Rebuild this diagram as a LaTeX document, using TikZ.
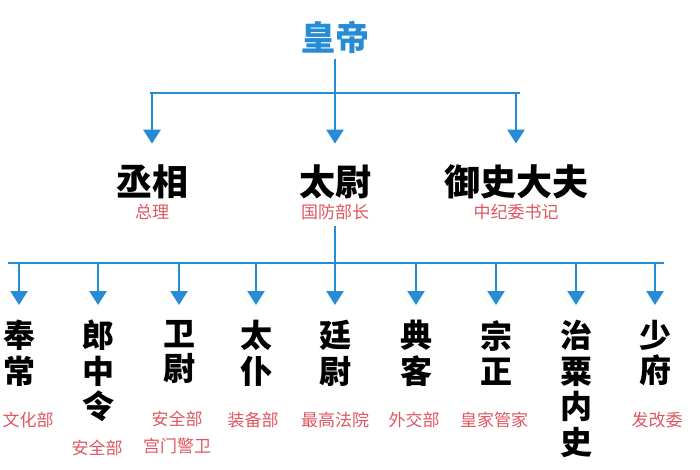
\documentclass[tikz,border=0pt]{standalone}
\usepackage{fontspec}
\setmainfont{Noto Sans CJK SC}
\usetikzlibrary{arrows.meta,positioning}
\definecolor{lineblue}{RGB}{38,140,214}
\definecolor{notered}{RGB}{222,86,96}
\tikzset{
  link/.style={lineblue, line width=2.6pt},
  down/.style={link, -{Triangle[width=17pt,length=14pt]}},
  topname/.style={font=\fontsize{36}{36}\selectfont\bfseries, inner sep=0pt},
  colname/.style={font=\fontsize{32}{35.5}\selectfont\bfseries, align=center, inner sep=0pt, anchor=north},
  modern/.style={text=notered, font=\fontsize{17}{27}\selectfont, align=center, inner sep=0pt},
}

\begin{document}
\begin{tikzpicture}[x=1pt,y=-1pt]
    \useasboundingbox (0,0) rectangle (700,470);
    \clip (0,0) rectangle (700,470);

    % 皇帝
    \node[topname, text=lineblue, font=\fontsize{34}{34}\selectfont\bfseries] (emp) at (335,37) {皇帝};

    % 三公
    \node[topname] (cx) at (152,182) {丞相};
    \node[topname] (tw) at (335,182) {太尉};
    \node[topname] (ys) at (516,182) {御史大夫};
    \node[modern] (cx-d) at (152,212) {总理};
    \node[modern] (tw-d) at (335,212) {国防部长};
    \node[modern] (ys-d) at (516,212) {中纪委书记};

    \coordinate (bar1) at (335,93);
    \coordinate (bar1l) at (150,93);
    \coordinate (bar1r) at (520,93);
    \draw[link] ([yshift=-6pt]emp.south) -- (bar1);
    \draw[link] (bar1l) -- (bar1r);
    \foreach \nm in {cx,tw,ys}
        \draw[down] (\nm |- bar1) -- ([yshift=21pt]\nm.north);

    % 九卿
    \coordinate (bar2) at (335,263);
    \coordinate (bar2l) at (8,263);
    \coordinate (bar2r) at (664,263);
    \draw[link] ([yshift=-6pt]tw-d.south) -- (bar2);
    \draw[link] (bar2l) -- (bar2r);
    \foreach \x/\nm/\txt in {19/fc/{奉\\常}, 98/lz/{郎\\中\\令}, 179/ww/{卫\\尉}, 256/tp/{太\\仆},
        335/tyw/{廷\\尉}, 416/dk/{典\\客}, 496/zz/{宗\\正}, 576/zs/{治\\粟\\内\\史}, 655/sf/{少\\府}} {
        \node[colname] (\nm) at (\x,320) {\txt};
        \draw[down] (\nm |- bar2) -- ([yshift=15pt]\nm.north);
    }

    \node[modern] (fc-d) at (28,420) {文化部};
    \node[modern] (lz-d) at (97,448) {安全部};
    \node[modern, anchor=north] (ww-d) at (177,411) {安全部\\宫门警卫};
    \node[modern] (tp-d) at (253,420) {装备部};
    \node[modern] (tyw-d) at (335,420) {最高法院};
    \node[modern] (dk-d) at (414,420) {外交部};
    \node[modern] (zz-d) at (494,420) {皇家管家};
    \node[modern] (sf-d) at (657,420) {发改委};
\end{tikzpicture}
\end{document}
